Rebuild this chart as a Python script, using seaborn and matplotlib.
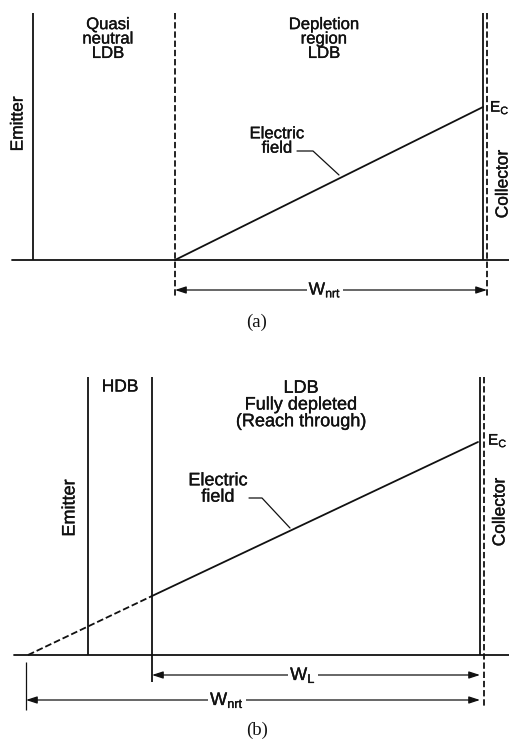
import matplotlib
matplotlib.use("Agg")
import matplotlib.pyplot as plt
import matplotlib.patheffects as pe
import seaborn as sns
import pandas as pd

# ---- panel (a): partially depleted LDB (pixel units of the drawing) ----
a_baseline = 260
a_top = 13
a_emitter_x = 33
a_depletion_x = 175
a_collector_solid_x = 483
a_collector_dash_x = 487
a_field_x = [175, 483]          # field line: zero at depletion edge, E_C at collector
a_field_h = [0, 153]

# ---- panel (b): reach-through, HDB + fully depleted LDB ----
b_baseline = 655
b_top = 377
b_emitter_x = 88
b_hdb_x = 152
b_collector_solid_x = 480
b_collector_dash_x = 484
b_ext_x = [28, 152]             # extrapolated (dashed) part of the field
b_ext_h = [0, 59]
b_field_x = [152, 478]
b_field_h = [59, 213]

sns.set_theme(style="white")
plt.rcParams["font.family"] = ["Liberation Sans", "DejaVu Sans"]

fig = plt.figure(figsize=(5.10, 7.45), dpi=100)
ax = fig.add_axes([0, 0, 1, 1])
ax.set_xlim(0, 510)
ax.set_ylim(745, 0)
ax.axis("off")

K = "#111111"
LW = 1.3
DASH = (0, (3.5, 1.6))
HEAVY = [pe.withStroke(linewidth=0.25, foreground=K)]


def label(x, y, s, fs=12, **kw):
    kw.setdefault("ha", "center")
    kw.setdefault("va", "center")
    return ax.text(x, y, s, fontsize=fs, color=K, path_effects=HEAVY, **kw)


def field_line(xs, hs, base, **kw):
    df = pd.DataFrame({"x": xs, "y": [base - h for h in hs]})
    sns.lineplot(data=df, x="x", y="y", ax=ax, color=K, lw=LW,
                 estimator=None, sort=False, legend=False, **kw)


def vline(x, y0, y1, dashed=False, lw=LW):
    ax.plot([x, x], [y0, y1], color=K, lw=lw,
            linestyle=DASH if dashed else "-", solid_capstyle="butt")


def dim_arrow(x0, x1, y, text, lx, fs):
    ax.annotate("", xy=(x1, y), xytext=(x0, y),
                arrowprops=dict(arrowstyle="<|-|>,head_length=0.55,head_width=0.18",
                                color=K, lw=0.9, shrinkA=0, shrinkB=0))
    label(lx, y, text, fs,
          bbox=dict(facecolor="white", edgecolor="none", pad=1.5))


# ================= panel (a) =================
ax.plot([12, 510], [a_baseline, a_baseline], color=K, lw=LW)
vline(a_emitter_x, a_top, a_baseline)
vline(a_depletion_x, a_top, 296, dashed=True)
vline(a_collector_solid_x, a_top, a_baseline)
vline(a_collector_dash_x, a_top, 298, dashed=True)
field_line(a_field_x, a_field_h, a_baseline)

label(108, 39, "Quasi\nneutral\nLDB", 12, linespacing=0.95)
label(324, 39, "Depletion\nregion\nLDB", 12, linespacing=0.95)
label(18, 124, "Emitter", 12.5, rotation=90)
label(503, 184, "Collector", 12.5, rotation=90)
label(490, 108, r"E$_\mathregular{C}$", 11, ha="left")
label(277, 141, "Electric\nfield", 12, linespacing=0.95)
ax.plot([297, 313, 339], [151, 151, 175], color=K, lw=0.9)
dim_arrow(a_depletion_x, a_collector_dash_x, 290, r"W$_\mathregular{nrt}$", 325, 12.5)
ax.text(257, 322, "(a)", ha="center", va="center", fontsize=13.5,
        family=["Liberation Serif"], color=K)

# ================= panel (b) =================
ax.plot([14, 510], [b_baseline, b_baseline], color=K, lw=LW)
vline(b_emitter_x, b_top, b_baseline)
vline(b_hdb_x, b_top, 682)
vline(b_collector_solid_x, b_top, b_baseline)
vline(b_collector_dash_x, b_top, 708, dashed=True)
vline(26, 662, 710, lw=0.9)
field_line(b_ext_x, b_ext_h, b_baseline, linestyle="--", dashes=(4, 2.2))
field_line(b_field_x, b_field_h, b_baseline)

label(120, 387, "HDB", 12.5)
label(301, 405, "LDB\nFully depleted\n(Reach through)", 13, linespacing=0.98)
label(70, 508, "Emitter", 13, rotation=90)
label(500, 512, "Collector", 12.5, rotation=90)
label(488, 441, r"E$_\mathregular{C}$", 11, ha="left")
label(218, 489, "Electric\nfield", 13, linespacing=0.95)
ax.plot([249, 262, 290], [498, 498, 528], color=K, lw=0.9)
dim_arrow(b_hdb_x, b_collector_solid_x, 675, r"W$_\mathregular{L}$", 303, 13)
dim_arrow(26, b_collector_solid_x, 700, r"W$_\mathregular{nrt}$", 227, 13)
ax.text(257, 730, "(b)", ha="center", va="center", fontsize=13.5,
        family=["Liberation Serif"], color=K)

fig.savefig("out.png", dpi=100, facecolor="white")
